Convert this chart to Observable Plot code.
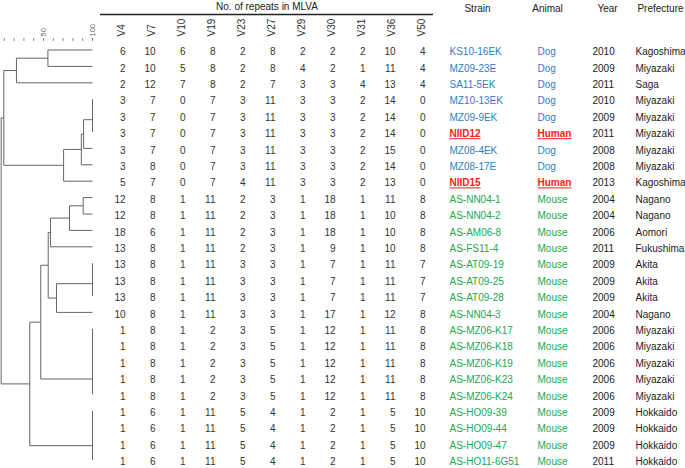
<!DOCTYPE html>
<html><head><meta charset="utf-8">
<script src="https://cdn.jsdelivr.net/npm/d3@7"></script>
<script src="https://cdn.jsdelivr.net/npm/@observablehq/plot@0.6"></script>
<style>
html,body{margin:0;padding:0;background:#fff;}
#chart{position:relative;width:685px;height:468px;overflow:hidden;}
#chart svg{position:absolute;top:0;overflow:visible;}
g[font-weight="bold"] text{text-decoration:underline;}
</style></head><body><div id="chart"></div>
<script>
// ---------- data ----------
const loci = ["V4","V7","V10","V19","V23","V27","V29","V30","V31","V36","V50"];
const strains = ["KS10-16EK","MZ09-23E","SA11-5EK","MZ10-13EK","MZ09-9EK","NIID12","MZ08-4EK","MZ08-17E","NIID15",
  "AS-NN04-1","AS-NN04-2","AS-AM06-8","AS-FS11-4","AS-AT09-19","AS-AT09-25","AS-AT09-28","AS-NN04-3",
  "AS-MZ06-K17","AS-MZ06-K18","AS-MZ06-K19","AS-MZ06-K23","AS-MZ06-K24",
  "AS-HO09-39","AS-HO09-44","AS-HO09-47","AS-HO11-6G51"];
const animals = ["Dog","Dog","Dog","Dog","Dog","Human","Dog","Dog","Human",
  "Mouse","Mouse","Mouse","Mouse","Mouse","Mouse","Mouse","Mouse",
  "Mouse","Mouse","Mouse","Mouse","Mouse","Mouse","Mouse","Mouse","Mouse"];
const years = [2010,2009,2011,2010,2009,2011,2008,2008,2013,2004,2004,2006,2011,2009,2009,2009,2004,
  2006,2006,2006,2006,2006,2009,2009,2009,2011];
const prefectures = ["Kagoshima","Miyazaki","Saga","Miyazaki","Miyazaki","Miyazaki","Miyazaki","Miyazaki","Kagoshima",
  "Nagano","Nagano","Aomori","Fukushima","Akita","Akita","Akita","Nagano",
  "Miyazaki","Miyazaki","Miyazaki","Miyazaki","Miyazaki","Hokkaido","Hokkaido","Hokkaido","Hokkaido"];
const repeats = [
  [6,10,6,8,2,8,2,2,2,10,4],
  [2,10,5,8,2,8,4,2,1,11,4],
  [2,12,7,8,2,7,3,3,4,13,4],
  [3,7,0,7,3,11,3,3,2,14,0],
  [3,7,0,7,3,11,3,3,2,14,0],
  [3,7,0,7,3,11,3,3,2,14,0],
  [3,7,0,7,3,11,3,3,2,15,0],
  [3,8,0,7,3,11,3,3,2,14,0],
  [5,7,0,7,4,11,3,3,2,13,0],
  [12,8,1,11,2,3,1,18,1,11,8],
  [12,8,1,11,2,3,1,18,1,10,8],
  [18,6,1,11,2,3,1,18,1,10,8],
  [13,8,1,11,2,3,1,9,1,10,8],
  [13,8,1,11,3,3,1,7,1,11,7],
  [13,8,1,11,3,3,1,7,1,11,7],
  [13,8,1,11,3,3,1,7,1,11,7],
  [10,8,1,11,3,3,1,17,1,12,8],
  [1,8,1,2,3,5,1,12,1,11,8],
  [1,8,1,2,3,5,1,12,1,11,8],
  [1,8,1,2,3,5,1,12,1,11,8],
  [1,8,1,2,3,5,1,12,1,11,8],
  [1,8,1,2,3,5,1,12,1,11,8],
  [1,6,1,11,5,4,1,2,1,5,10],
  [1,6,1,11,5,4,1,2,1,5,10],
  [1,6,1,11,5,4,1,2,1,5,10],
  [1,6,1,11,5,4,1,2,1,5,10]
];
// dendrogram: [similarity %, left, right]; leaves are row numbers (1-based)
const tree = [6.8,
  [9.5,
    [22.4, [54.5, 1, 2], 3],
    [70.5, [88.6, [90.9, [100, [100, 4, 5], 6], 7], 8], 9]],
  [36.0,
    [47.2,
      [54.8,
        [57.1, [76.5, [90.5, 10, 11], 12], 13],
        [63.3, [100, [100, 14, 15], 16], 17]],
      [100, [100, [100, [100, 18, 19], 20], 21], 22]],
    [100, [100, [100, 23, 24], 25], 26]]];
const scaleTicks = [10,20,30,40,50,60,70,80,90,100];
const scaleLabels = [50,100];
const metaCols = ["Strain","Animal","Year","Prefecture"];
const animalDomain = ["Dog","Human","Mouse"];

// ---------- styles / layout ----------
const FONT = "'Liberation Sans', Arial, sans-serif";
const animalColors = ["#2b80c5","#ff1a1a","#21a94f"];
const rowScale = {domain: [1, 26], range: [49.5, 459.5], axis: null};
const baseStyle = {background: "transparent", fontFamily: FONT, fontSize: "10px", overflow: "visible"};

// dendrogram segments from tree structure
const segs = [];
function layout(n) {
  if (typeof n === "number") return {x: 100, y: n};
  const [s, a, b] = n;
  const A = layout(a), B = layout(b);
  segs.push({x1: s, x2: s, y1: A.y, y2: B.y});
  segs.push({x1: s, x2: A.x, y1: A.y, y2: A.y});
  segs.push({x1: s, x2: B.x, y1: B.y, y2: B.y});
  return {x: s, y: (A.y + B.y) / 2};
}
layout(tree);

const dendro = Plot.plot({
  width: 100, height: 468,
  marginLeft: 0, marginRight: 8, marginTop: 40, marginBottom: 0,
  style: baseStyle,
  x: {domain: [0, 100], range: [-6, 92]},
  y: rowScale,
  marks: [
    Plot.axisX(scaleTicks, {anchor: "top", tickSize: 3, tickPadding: 1, tickRotate: -90,
      tickFormat: d => scaleLabels.includes(d) ? String(d) : "", line: true,
      stroke: "#888", fill: "#666", fontSize: 7.5}),
    Plot.link(segs, {x1: "x1", y1: "y1", x2: "x2", y2: "y2", stroke: "#666", strokeWidth: 1})
  ]
});

const cells = strains.flatMap((s, i) => loci.map((l, j) => ({row: i + 1, locus: l, value: repeats[i][j]})));
const table = Plot.plot({
  width: 333, height: 468, margin: 0,
  style: baseStyle,
  x: {type: "point", domain: loci, range: [23, 327], padding: 0, axis: null},
  y: rowScale,
  marks: [
    Plot.text(["No. of repeats in MLVA"], {frameAnchor: "top", lineAnchor: "middle", dy: 6, fontSize: 10, fill: "#222"}),
    Plot.ruleY([1], {dy: -35.5, stroke: "#222", strokeWidth: 1.5}),
    Plot.text(loci, {x: d => d, frameAnchor: "top", lineAnchor: "middle", dy: 36, dx: -4, rotate: -90, textAnchor: "start", fontSize: 10, fill: "#333"}),
    Plot.text(cells, {x: "locus", y: "row", text: "value", textAnchor: "end", dy: 2, fontSize: 10, fill: "#333"})
  ]
});

const meta = strains.map((s, i) => ({row: i + 1, strain: s, animal: animals[i], year: years[i], pref: prefectures[i]}));
const headerDx = [28, 36, 34, 25];
const colDx = {Strain: 0, Animal: 26, Year: 19, Prefecture: 0};
const metaPlot = Plot.plot({
  width: 252, height: 468, margin: 0,
  style: baseStyle,
  x: {type: "point", domain: metaCols, range: [16, 202], padding: 0, axis: null},
  y: rowScale,
  color: {domain: animalDomain, range: animalColors},
  marks: [
    ...metaCols.map((c, i) => Plot.text([c], {x: d => d, frameAnchor: "top", lineAnchor: "middle", dy: 8, dx: headerDx[i], fontSize: 10, fill: "#222"})),
    Plot.text(meta, {filter: d => d.animal !== "Human", x: () => "Strain", y: "row", text: "strain", fill: "animal", textAnchor: "start", dy: 2, fontSize: 10}),
    Plot.text(meta, {filter: d => d.animal === "Human", x: () => "Strain", y: "row", text: "strain", fill: "animal", textAnchor: "start", dy: 2, fontSize: 10, fontWeight: "bold"}),
    Plot.text(meta, {filter: d => d.animal !== "Human", x: () => "Animal", y: "row", text: "animal", fill: "animal", textAnchor: "start", dx: colDx.Animal, dy: 2, fontSize: 10}),
    Plot.text(meta, {filter: d => d.animal === "Human", x: () => "Animal", y: "row", text: "animal", fill: "animal", textAnchor: "start", dx: colDx.Animal, dy: 2, fontSize: 10, fontWeight: "bold"}),
    Plot.text(meta, {x: () => "Year", y: "row", text: d => String(d.year), fill: "#222", textAnchor: "start", dx: colDx.Year, dy: 2, fontSize: 10}),
    Plot.text(meta, {x: () => "Prefecture", y: "row", text: "pref", fill: "#222", textAnchor: "start", dx: colDx.Prefecture, dy: 2, fontSize: 10})
  ]
});

const chart = document.getElementById("chart");
dendro.style.left = "0px";
table.style.left = "100px";
metaPlot.style.left = "433px";
chart.append(dendro, table, metaPlot);
</script>
</body></html>
